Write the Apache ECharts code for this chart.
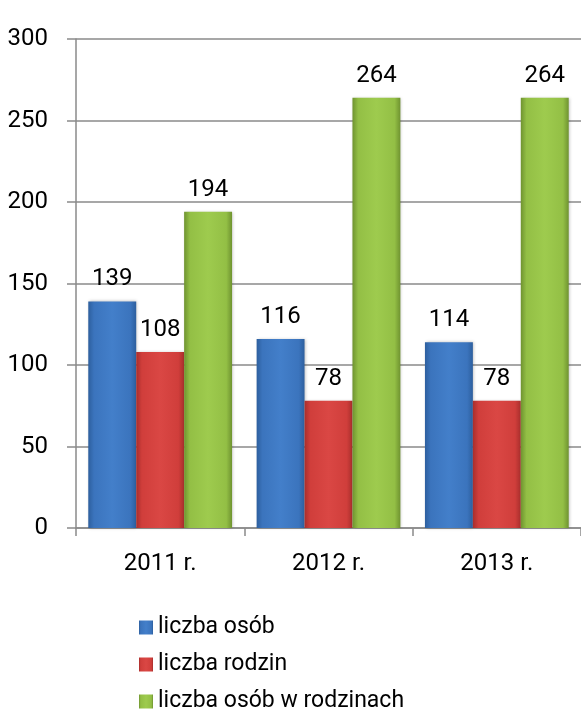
<!DOCTYPE html>
<html>
<head>
<meta charset="utf-8">
<script src="https://cdn.jsdelivr.net/npm/echarts@6/dist/echarts.min.js"></script>
<style>
  html, body { margin: 0; padding: 0; background: #fff; }
  #main { width: 581px; height: 720px; }
</style>
</head>
<body>
<div id="main"></div>
<script>
  // dane z wykresu
  const years = ['2011 r.', '2012 r.', '2013 r.']
  const osoby = [139, 116, 114]
  const rodziny = [108, 78, 78]
  const osobyWRodzinach = [194, 264, 264]
  const seriesNames = ['liczba osób', 'liczba rodzin', 'liczba osób w rodzinach']

  const font = 'Roboto'

  function barGrad(dark, mid, light) {
    return new echarts.graphic.LinearGradient(0, 0, 1, 0, [
      { offset: 0, color: dark },
      { offset: 0.12, color: mid },
      { offset: 0.5, color: light },
      { offset: 0.88, color: mid },
      { offset: 1, color: dark }
    ])
  }

  const colors = [
    barGrad('#2d5f9e', '#3b74bd', '#437fca'),
    barGrad('#a82e2c', '#d03e3b', '#da4744'),
    barGrad('#6f9330', '#93bf45', '#9ecb4e')
  ]
  const legendColors = ['#3c78c3', '#d3403d', '#97c448']

  function makeSeries(name, data, i) {
    return {
      name: name,
      type: 'bar',
      data: data,
      barGap: '0%',
      barCategoryGap: '14.6%',
      itemStyle: {
        color: colors[i],
        shadowColor: 'rgba(0,0,0,0.25)',
        shadowBlur: 3,
        shadowOffsetX: 1
      },
      label: {
        show: true,
        position: 'top',
        distance: 10,
        fontFamily: font,
        fontSize: 24,
        color: '#000'
      }
    }
  }

  const chart = echarts.init(document.getElementById('main'))
  chart.setOption({
    animation: false,
    color: legendColors,
    grid: {
      left: 76,
      top: 39,
      width: 513,
      height: 489
    },
    legend: {
      orient: 'vertical',
      left: 134,
      top: 611,
      itemWidth: 14,
      itemHeight: 14,
      itemGap: 14,
      icon: 'rect',
      textStyle: {
        fontFamily: font,
        fontSize: 23,
        color: '#000'
      },
      data: seriesNames
    },
    xAxis: {
      type: 'category',
      data: years,
      axisLine: { lineStyle: { color: '#8a8a8a', width: 1.5 } },
      axisTick: { show: true, length: 8, lineStyle: { color: '#8a8a8a', width: 1.5 } },
      axisLabel: {
        margin: 24,
        fontFamily: font,
        fontSize: 24,
        color: '#000'
      }
    },
    yAxis: {
      type: 'value',
      min: 0,
      max: 300,
      interval: 50,
      axisLine: { show: true, lineStyle: { color: '#8a8a8a', width: 1.5 } },
      axisTick: { show: true, length: 9, lineStyle: { color: '#8a8a8a', width: 1.5 } },
      splitLine: { lineStyle: { color: '#8a8a8a', width: 1.5 } },
      axisLabel: {
        margin: 28,
        fontFamily: font,
        fontSize: 24,
        color: '#000'
      }
    },
    series: [
      makeSeries(seriesNames[0], osoby, 0),
      makeSeries(seriesNames[1], rodziny, 1),
      makeSeries(seriesNames[2], osobyWRodzinach, 2)
    ]
  })
</script>
</body>
</html>
